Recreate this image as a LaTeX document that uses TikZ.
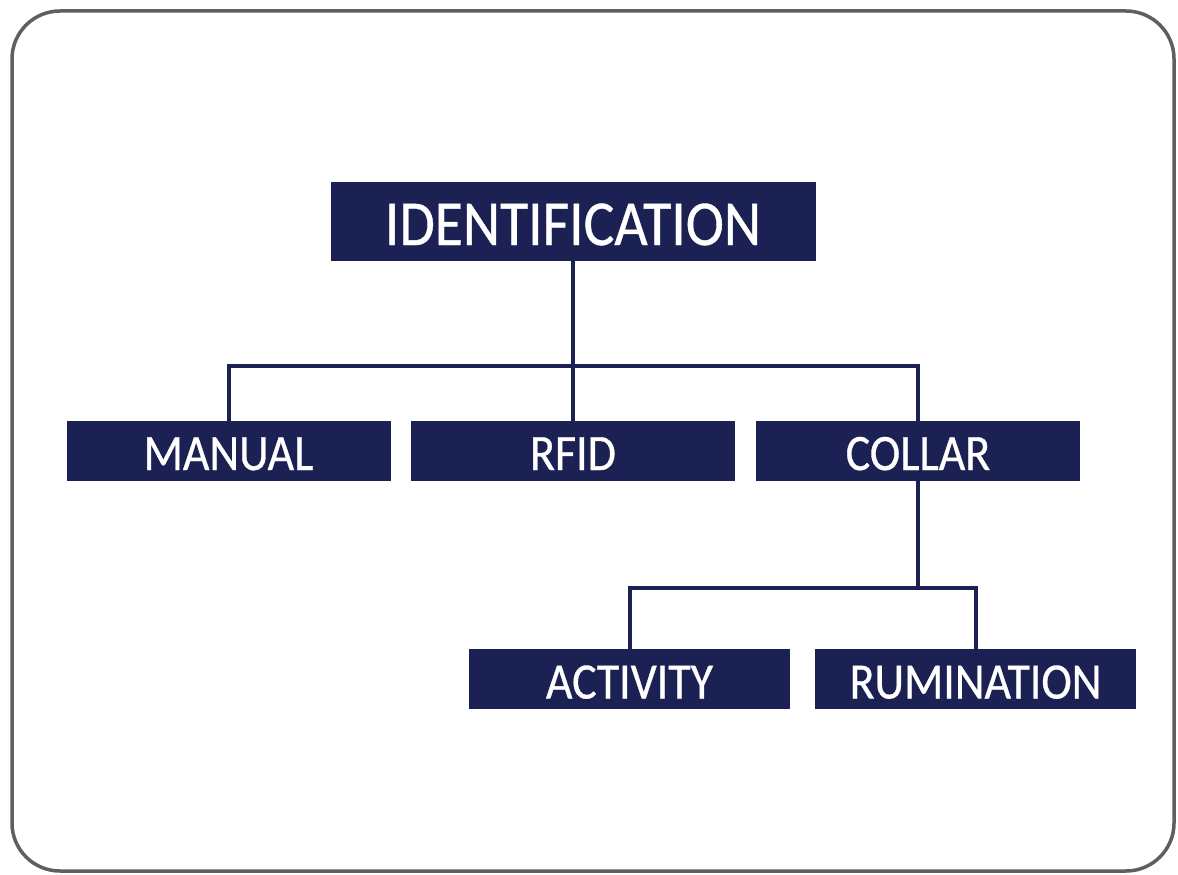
\documentclass[tikz,border=0pt]{standalone}
\usepackage{fontspec}
\setmainfont{Carlito}
\newfontfamily\boxfont[FakeStretch=0.9,FakeBold=0.6]{Carlito}
\definecolor{navy}{RGB}{28,33,84}
\definecolor{framegray}{RGB}{95,95,95}
\tikzset{
  box/.style={fill=navy, text=white, inner sep=0pt, text depth=0pt},
  bigbox/.style={box, font=\boxfont\fontsize{64}{64}\selectfont, text height=47pt, minimum width=485pt, minimum height=79pt},
  smallbox/.style={box, font=\boxfont\fontsize{51}{51}\selectfont, text height=39pt, minimum height=60pt},
  link/.style={draw=navy, line width=4pt, line cap=rect},
}
\begin{document}
\begin{tikzpicture}[x=1pt,y=-1pt]
\useasboundingbox (0,0) rectangle (1178,875);
\draw[framegray, line width=3.5pt, rounded corners=48pt] (12,11) rectangle (1174,871);
\node[bigbox] (ident) at (573,221.5) {IDENTIFICATION};
\node[smallbox, minimum width=324pt] (manual) at (228.5,450.5) {MANUAL};
\node[smallbox, minimum width=324pt] (rfid) at (573,450.5) {RFID};
\node[smallbox, minimum width=324pt] (collar) at (918,450.5) {COLLAR};
\node[smallbox, minimum width=321pt] (activity) at (629.5,679) {ACTIVITY};
\node[smallbox, minimum width=321pt] (rumination) at (975.5,679) {RUMINATION};
\coordinate (bus1) at (0,366);
\coordinate (bus2) at (0,588);
\draw[link] (ident.south) -- (rfid.north);
\draw[link] (manual.north) |- (bus1 -| collar.north) -- (collar.north);
\draw[link] (collar.south) -- (collar.south |- bus2);
\draw[link] (activity.north) |- (bus2 -| rumination.north) -- (rumination.north);
\end{tikzpicture}
\end{document}
